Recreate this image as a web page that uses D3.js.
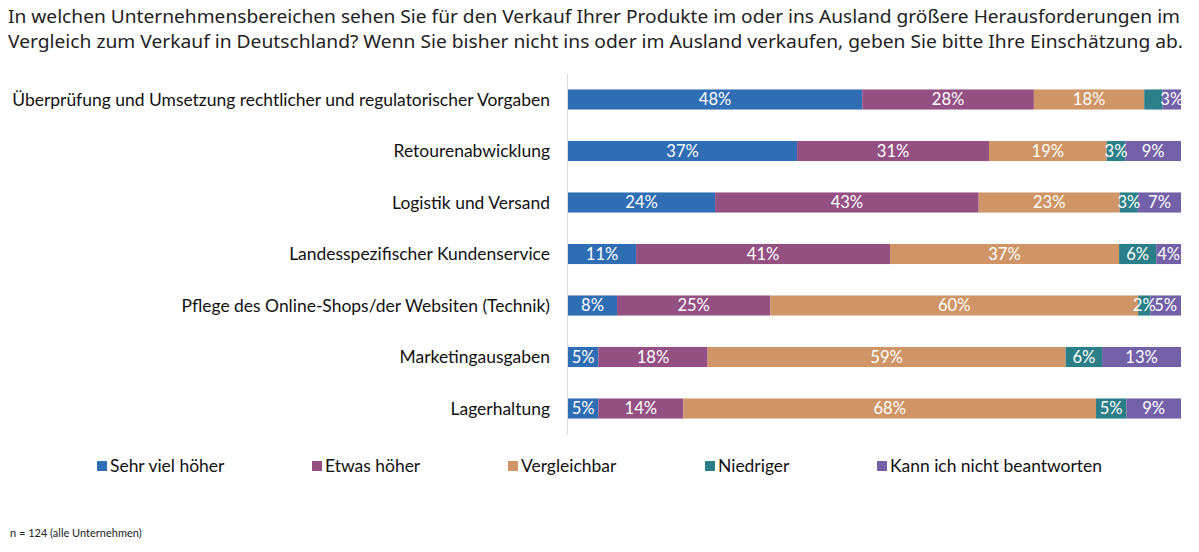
<!DOCTYPE html>
<html><head><meta charset="utf-8">
<script src="https://cdn.jsdelivr.net/npm/d3@7"></script>
<style>body{margin:0;background:#fff}svg{display:block}</style>
</head><body>
<svg id="c" width="1199" height="552"></svg>
<script>
const titleLines = [
  "In welchen Unternehmensbereichen sehen Sie für den Verkauf Ihrer Produkte im oder ins Ausland größere Herausforderungen im",
  "Vergleich zum Verkauf in Deutschland? Wenn Sie bisher nicht ins oder im Ausland verkaufen, geben Sie bitte Ihre Einschätzung ab."
];
const categories = [
  "Überprüfung und Umsetzung rechtlicher und regulatorischer Vorgaben",
  "Retourenabwicklung",
  "Logistik und Versand",
  "Landesspezifischer Kundenservice",
  "Pflege des Online-Shops/der Websiten (Technik)",
  "Marketingausgaben",
  "Lagerhaltung"
];
const seriesNames = ["Sehr viel höher","Etwas höher","Vergleichbar","Niedriger","Kann ich nicht beantworten"];
const sehrVielHoeher = [48,37,24,11,8,5,5];
const etwasHoeher    = [28,31,43,41,25,18,14];
const vergleichbar   = [18,19,23,37,60,59,68];
const niedriger      = [3,3,3,6,2,6,5];
const kannNicht      = [3,9,7,4,5,13,9];
const hiddenLabels = [[0,3]]; // [row, series] without a printed value
const colors = ["#2F6DB5","#945083","#D09566","#2B7F88","#7460A8"];
const footnote = "n = 124 (alle Unternehmen)";

const seriesValues = [sehrVielHoeher, etwasHoeher, vergleichbar, niedriger, kannNicht];
const svg = d3.select("#c");

// title
titleLines.forEach((t,i)=>{
  svg.append("text").attr("x",8).attr("y",23+i*25)
    .attr("font-family","'Noto Sans', sans-serif").attr("font-size",18.5)
    .attr("fill","#222").attr("textLength", i===0?1172:1175).attr("lengthAdjust","spacingAndGlyphs")
    .text(t);
});

const x = d3.scaleLinear().domain([0,1]).range([568,1181]);
const y = d3.scaleBand().domain(categories).range([74,434]).paddingInner(0.61).paddingOuter(0.3);

// axis line
svg.append("line").attr("x1",567.5).attr("x2",567.5).attr("y1",74).attr("y2",435)
  .attr("stroke","#D9D9D9").attr("stroke-width",1);

// category labels
const labelFont = "Lato, 'Open Sans', sans-serif";
const lg = svg.append("g");
const catText = lg.selectAll("text").data(categories).join("text")
  .attr("x",550).attr("y",d=>y(d)+y.bandwidth()/2).attr("dy","0.35em")
  .attr("text-anchor","end").attr("font-family",labelFont).attr("font-size",17)
  .attr("fill","#111").text(d=>d);
// fit longest label to its reference width
const longest = catText.nodes()[0].getComputedTextLength();
const fs = 17*538/longest;
catText.attr("font-size",fs);

// stacked data
const rows = categories.map((c,i)=>{
  const vals = seriesValues.map(s=>s[i]);
  const total = d3.sum(vals);
  let cum = 0;
  return vals.map((v,j)=>{ const s = {cat:c,row:i,ser:j,v:v,x0:cum/total,x1:(cum+v)/total}; cum+=v; return s; });
}).flat();

svg.append("g").selectAll("rect").data(rows).join("rect")
  .attr("x",d=>x(d.x0)).attr("width",d=>x(d.x1)-x(d.x0))
  .attr("y",d=>y(d.cat)).attr("height",y.bandwidth())
  .attr("fill",d=>colors[d.ser]);

svg.append("g").selectAll("text")
  .data(rows.filter(d=>!hiddenLabels.some(h=>h[0]===d.row&&h[1]===d.ser)))
  .join("text")
  .attr("x",d=>(x(d.x0)+x(d.x1))/2).attr("y",d=>y(d.cat)+y.bandwidth()/2).attr("dy","0.36em")
  .attr("text-anchor","middle").attr("font-family",labelFont).attr("font-size",fs*0.95)
  .attr("fill","#fff").text(d=>d.v+"%");

// legend
const legendX = [97,312,508,705,877];
const lgd = svg.append("g").selectAll("g").data(seriesNames).join("g")
  .attr("transform",(d,i)=>`translate(${legendX[i]},466)`);
lgd.append("rect").attr("x",0).attr("y",-5).attr("width",10).attr("height",10).attr("fill",(d,i)=>colors[i]);
lgd.append("text").attr("x",13).attr("y",0).attr("dy","0.36em")
  .attr("font-family",labelFont).attr("font-size",fs).attr("fill","#111").text(d=>d);

svg.append("text").attr("x",10).attr("y",537).attr("font-family",labelFont)
  .attr("font-size",11).attr("fill","#222").text(footnote);
</script>
</body></html>
